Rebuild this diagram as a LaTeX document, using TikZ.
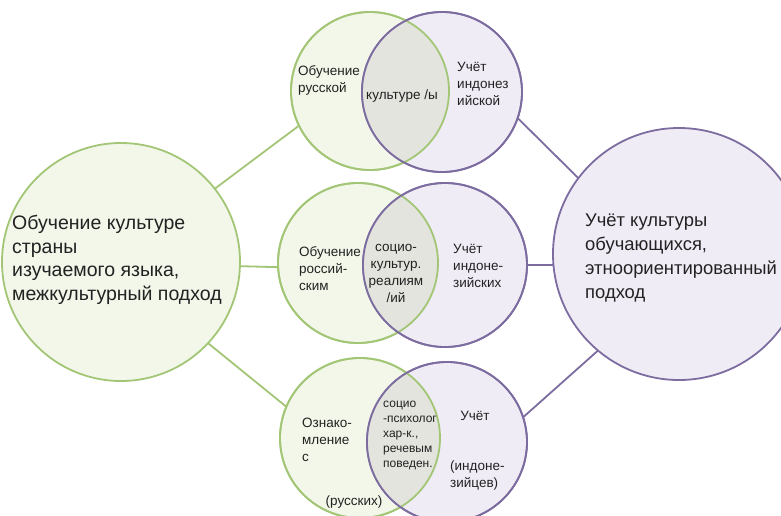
\documentclass[tikz,border=0pt]{standalone}
\usepackage{fontspec}
\setmainfont{Liberation Sans}
\definecolor{gline}{RGB}{163,198,118}
\definecolor{gfill}{RGB}{242,247,234}
\definecolor{pline}{RGB}{124,108,160}
\definecolor{pfill}{RGB}{240,236,245}
\definecolor{both}{RGB}{226,228,221}
\definecolor{txt}{RGB}{34,34,34}
\begin{document}
\begin{tikzpicture}[x=1pt,y=-1pt,
		gcirc/.style={circle,draw=gline,fill=gfill,line width=1.8pt,inner sep=0pt,outer sep=0pt},
		pcirc/.style={circle,draw=pline,fill=pfill,line width=1.8pt,inner sep=0pt,outer sep=0pt},
		glink/.style={draw=gline,line width=1.8pt},
		plink/.style={draw=pline,line width=1.8pt},
		bigtxt/.style={anchor=west,align=left,inner sep=0pt,text=txt,font=\fontsize{19.5}{23.5}\selectfont},
		midtxt/.style={anchor=west,align=left,inner sep=0pt,text=txt,font=\fontsize{13.5}{17}\selectfont},
		smalltxt/.style={anchor=west,align=left,inner sep=0pt,text=txt,font=\fontsize{12}{15}\selectfont}]
		\useasboundingbox (0,0) rectangle (781,515);
		
		\node[gcirc,minimum size=238pt] (L) at (121,262) {};
		\node[pcirc,minimum size=252pt] (R) at (679,254) {};
		
		\node[gcirc,minimum size=158pt] (TG) at (370,91) {};
		\node[pcirc,minimum size=160pt] (TP) at (442,92) {};
		\node[gcirc,minimum size=160pt] (MG) at (358,263) {};
		\node[pcirc,minimum size=164pt] (MP) at (445,265) {};
		\node[gcirc,minimum size=160pt] (BG) at (360,438) {};
		\node[pcirc,minimum size=160pt] (BP) at (447,442) {};
		
		\foreach \g/\p/\rg/\rp in {TG/TP/79/80,MG/MP/80/82,BG/BP/80/80}{
			\begin{scope}
				\clip (\g.center) circle[radius=\rg pt];
				\fill[both] (\p.center) circle[radius=\rp pt];
			\end{scope}
			\draw[gline,line width=1.8pt] (\g.center) circle[radius=\rg pt];
			\draw[pline,line width=1.8pt] (\p.center) circle[radius=\rp pt];
		}
		
		\draw[glink] (L.38) -- (TG.206);
		\draw[glink] (L.-2) -- (MG.183);
		\draw[glink] (L.317) -- (BG.157);
		\draw[plink] (TP.-19) -- (R.143);
		\draw[plink] (MP.east) -- (R.185);
		\draw[plink] (BP.18) -- (R.230);
		
		\node[bigtxt] (ltext) at (12,260) {Обучение культуре\\страны\\изучаемого языка,\\межкультурный подход};
		\node[bigtxt,font=\fontsize{18.4}{24}\selectfont] (rtext) at (585,258) {Учёт культуры\\обучающихся,\\этноориентированный\\подход};
		
		\node[midtxt] (tg) at (298,80) {Обучение\\русской};
		\node[midtxt,anchor=center] (tb) at (402,96) {культуре /ы};
		\node[midtxt] (tp) at (457,84) {Учёт\\индонез\\ийской};
		
		\node[midtxt] (mg) at (299,269) {Обучение\\россий-\\ским};
		\node[midtxt,anchor=center,align=center] (mb) at (396,273) {социо-\\культур.\\реалиям\\/ий};
		\node[midtxt] (mp) at (453,266) {Учёт\\индоне-\\зийских};
		
		\node[midtxt] (bg) at (302,440) {Ознако-\\мление\\с};
		\node[midtxt,anchor=center] (bg2) at (354,502) {(русских)};
		\node[smalltxt] (bb) at (383,435) {социо\\-психолог\\хар-к.,\\речевым\\поведен.};
		\node[midtxt,anchor=center] (bp) at (475,416) {Учёт};
		\node[midtxt] (bp2) at (450,475) {(индоне-\\зийцев)};
	\end{tikzpicture}
\end{document}
